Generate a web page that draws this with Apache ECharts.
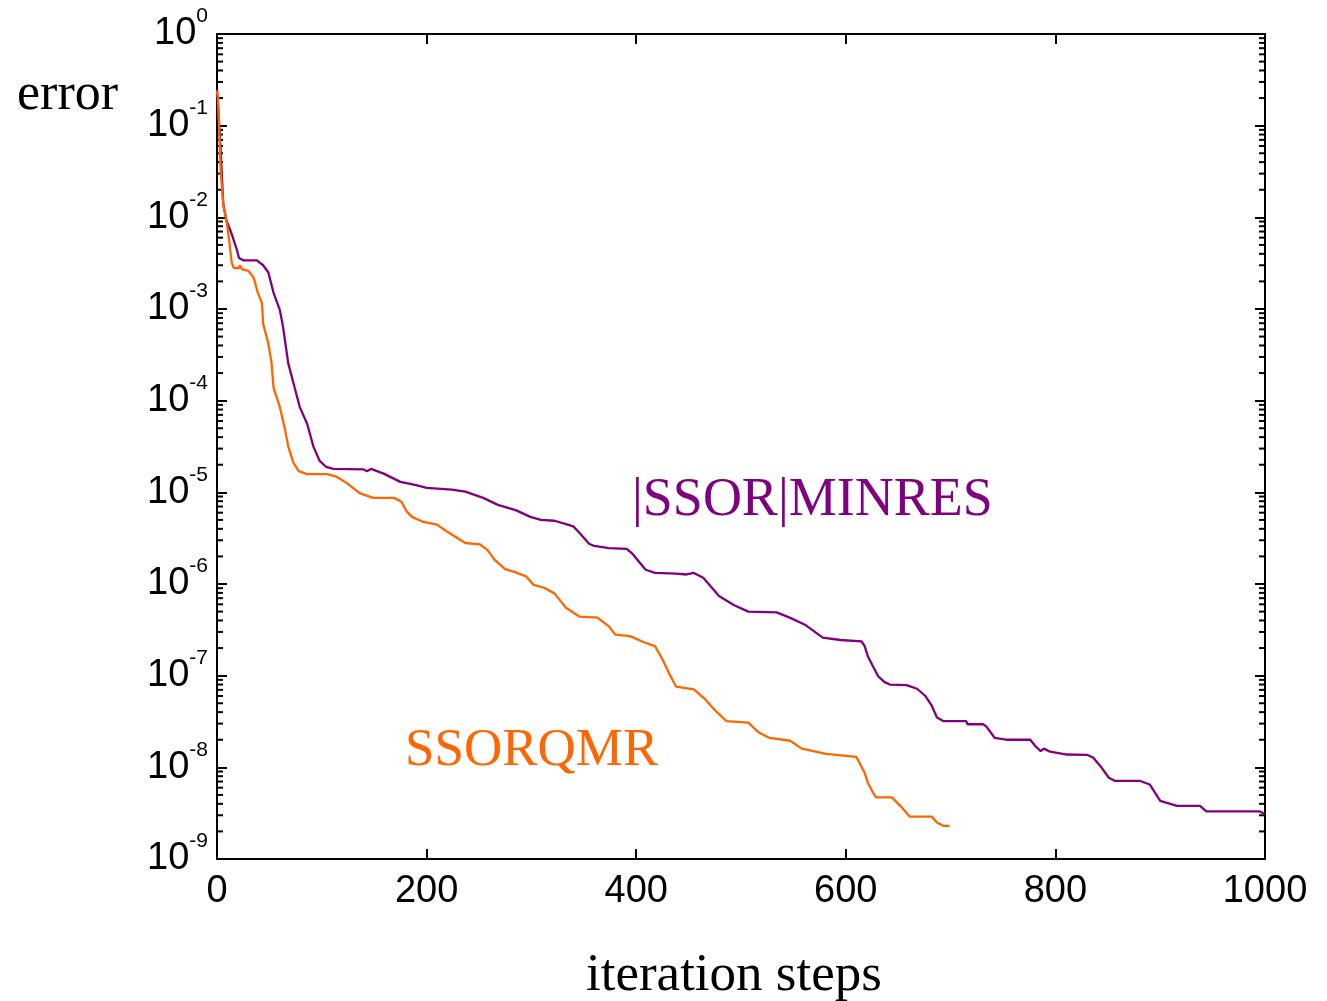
<!DOCTYPE html>
<html>
<head>
<meta charset="utf-8">
<script src="https://cdn.jsdelivr.net/npm/echarts@6/dist/echarts.min.js"></script>
<style>
html,body{margin:0;padding:0;background:#fff}
#chart{width:1327px;height:1001px}
</style>
</head>
<body>
<div id="chart"></div>
<script>
// |SSOR|MINRES curve
const minresIter=[0,1,3,6,9,14,19,21,25,38,44,49,54,60,63,68,74,79,86,92,98,104,111,140,143,147,159,175,190,200,224,237,254,268,285,299,309,322,333,340,346,355,360,374,391,397,409,418,438,448,455,464,479,493,507,534,547,561,578,595,615,618,621,626,631,637,642,658,668,676,682,687,693,715,716,731,734,742,753,776,781,786,789,795,811,830,836,843,851,857,881,890,895,900,916,938,944,995,1000];
const minresErr=[0.25,0.24,0.069,0.014,0.0093,0.0066,0.0044,0.0036,0.0034,0.0034,0.0030,0.0025,0.0015,0.00097,0.00064,2.55e-4,1.4e-4,8.5e-5,5.6e-5,3.15e-5,2.2e-5,1.9e-5,1.8e-5,1.78e-5,1.7e-5,1.8e-5,1.6e-5,1.3e-5,1.2e-5,1.12e-5,1.07e-5,1.02e-5,8.7e-6,7.3e-6,6.4e-6,5.4e-6,5.0e-6,4.9e-6,4.5e-6,4.25e-6,3.6e-6,2.75e-6,2.6e-6,2.46e-6,2.42e-6,2.1e-6,1.43e-6,1.32e-6,1.3e-6,1.27e-6,1.32e-6,1.17e-6,7.4e-7,5.9e-7,5.0e-7,4.9e-7,4.27e-7,3.6e-7,2.6e-7,2.45e-7,2.37e-7,2.1e-7,1.63e-7,1.26e-7,9.8e-8,8.5e-8,8.0e-8,7.9e-8,7.2e-8,6.0e-8,4.7e-8,3.5e-8,3.2e-8,3.2e-8,2.95e-8,2.95e-8,2.8e-8,2.1e-8,2.0e-8,2.0e-8,1.7e-8,1.5e-8,1.6e-8,1.48e-8,1.38e-8,1.37e-8,1.28e-8,1.03e-8,7.7e-9,7.1e-9,7.1e-9,6.5e-9,5.3e-9,4.3e-9,3.8e-9,3.8e-9,3.3e-9,3.3e-9,3.1e-9];

// SSORQMR curve
const qmrIter=[0,1,3.5,6,9,12,14,16,21,22,24,30,35,39,43,44,49,52,54,60,65,68,73,78,86,105,114,124,136,149,169,176,181,186,196,210,217,227,237,251,258,265,275,285,295,302,312,322,333,346,363,374,380,394,408,418,425,432,438,455,466,476,486,507,517,527,547,558,581,610,613,618,621,626,629,644,652,661,682,687,693,699];
const qmrErr=[0.24,0.2,0.032,0.0135,0.0093,0.0052,0.0032,0.0028,0.0028,0.003,0.0027,0.0026,0.0022,0.0015,0.00115,0.00069,0.00042,2.6e-4,1.37e-4,8.5e-5,4.8e-5,3.15e-5,2.1e-5,1.7e-5,1.58e-5,1.58e-5,1.48e-5,1.26e-5,9.8e-6,8.7e-6,8.7e-6,7.9e-6,6.2e-6,5.4e-6,4.8e-6,4.45e-6,3.9e-6,3.3e-6,2.8e-6,2.7e-6,2.36e-6,1.83e-6,1.45e-6,1.34e-6,1.21e-6,9.8e-7,9.1e-7,7.9e-7,5.5e-7,4.4e-7,4.3e-7,3.45e-7,2.8e-7,2.7e-7,2.3e-7,2.1e-7,1.51e-7,1.03e-7,7.6e-8,7.1e-8,5.5e-8,4.1e-8,3.2e-8,3.08e-8,2.4e-8,2.1e-8,1.95e-8,1.6e-8,1.4e-8,1.3e-8,1.12e-8,8.7e-9,6.8e-9,5.3e-9,4.7e-9,4.7e-9,3.8e-9,2.9e-9,2.9e-9,2.5e-9,2.3e-9,2.3e-9];

const decades=[-9,-8,-7,-6,-5,-4,-3,-2,-1];
const minorMult=[2,3,4,5,6,7,8,9];

const zip=(a,b)=>a.map((v,i)=>[v,b[i]]);
const minorTicks=[];
decades.forEach(d=>minorMult.forEach(m=>minorTicks.push([0,m*Math.pow(10,d)])));

const AX='#000';
const sans='"Liberation Sans", Arial, sans-serif';
const serif='"Liberation Serif", "Times New Roman", serif';

const lineAx={onZero:false,lineStyle:{color:AX,width:2}};
const tickIn={inside:true,length:10,lineStyle:{color:AX,width:2}};

const supLabel=v=>'{b|10}{s|'+Math.round(Math.log10(v))+'}';

const chart=echarts.init(document.getElementById('chart'));
chart.setOption({
  animation:false,
  backgroundColor:'#fff',
  grid:{left:217,top:34,width:1048,height:825},
  xAxis:[
    {type:'value',min:0,max:1000,interval:200,position:'bottom',
     axisLine:lineAx,axisTick:tickIn,splitLine:{show:false},
     axisLabel:{fontSize:38,fontFamily:sans,color:'#000',margin:14,formatter:v=>String(v)}},
    {type:'value',min:0,max:1000,interval:200,position:'top',
     axisLine:lineAx,axisTick:tickIn,splitLine:{show:false},axisLabel:{show:false}}
  ],
  yAxis:[
    {type:'log',logBase:10,min:1e-9,max:1,position:'left',
     axisLine:lineAx,axisTick:tickIn,splitLine:{show:false},minorTick:{show:false},
     axisLabel:{margin:9,formatter:supLabel,
       rich:{b:{fontSize:38,fontFamily:sans,color:'#000',lineHeight:56},
             s:{fontSize:21,fontFamily:sans,color:'#000',lineHeight:24,verticalAlign:'top'}}}},
    {type:'log',logBase:10,min:1e-9,max:1,position:'right',
     axisLine:lineAx,axisTick:tickIn,splitLine:{show:false},axisLabel:{show:false}}
  ],
  series:[
    {type:'custom',coordinateSystem:'cartesian2d',silent:true,data:minorTicks,
     renderItem:(params,api)=>{
       const v=api.value(1);
       const pl=api.coord([0,v]), pr=api.coord([1000,v]);
       const st={stroke:AX,lineWidth:2};
       return {type:'group',children:[
         {type:'line',shape:{x1:pl[0],y1:pl[1],x2:pl[0]+6,y2:pl[1]},style:st},
         {type:'line',shape:{x1:pr[0]-6,y1:pr[1],x2:pr[0],y2:pr[1]},style:st}
       ]};
     }},
    {name:'|SSOR|MINRES',type:'line',data:zip(minresIter,minresErr),showSymbol:false,
     lineStyle:{color:'#800080',width:2.3},itemStyle:{color:'#800080'}},
    {name:'SSORQMR',type:'line',data:zip(qmrIter,qmrErr),showSymbol:false,
     lineStyle:{color:'#FF6600',width:2.3},itemStyle:{color:'#FF6600'}}
  ],
  graphic:[
    {type:'text',left:17,top:69,style:{text:'error',font:'52px '+serif,fill:'#000'}},
    {type:'text',left:586,top:950,style:{text:'iteration steps',font:'53px '+serif,fill:'#000'}},
    {type:'text',left:632,top:474,style:{text:'|SSOR|MINRES',font:'54px '+serif,fill:'#800080'}},
    {type:'text',left:405,top:725,style:{text:'SSORQMR',font:'53px '+serif,fill:'#FF6600'}}
  ]
});
</script>
</body>
</html>
